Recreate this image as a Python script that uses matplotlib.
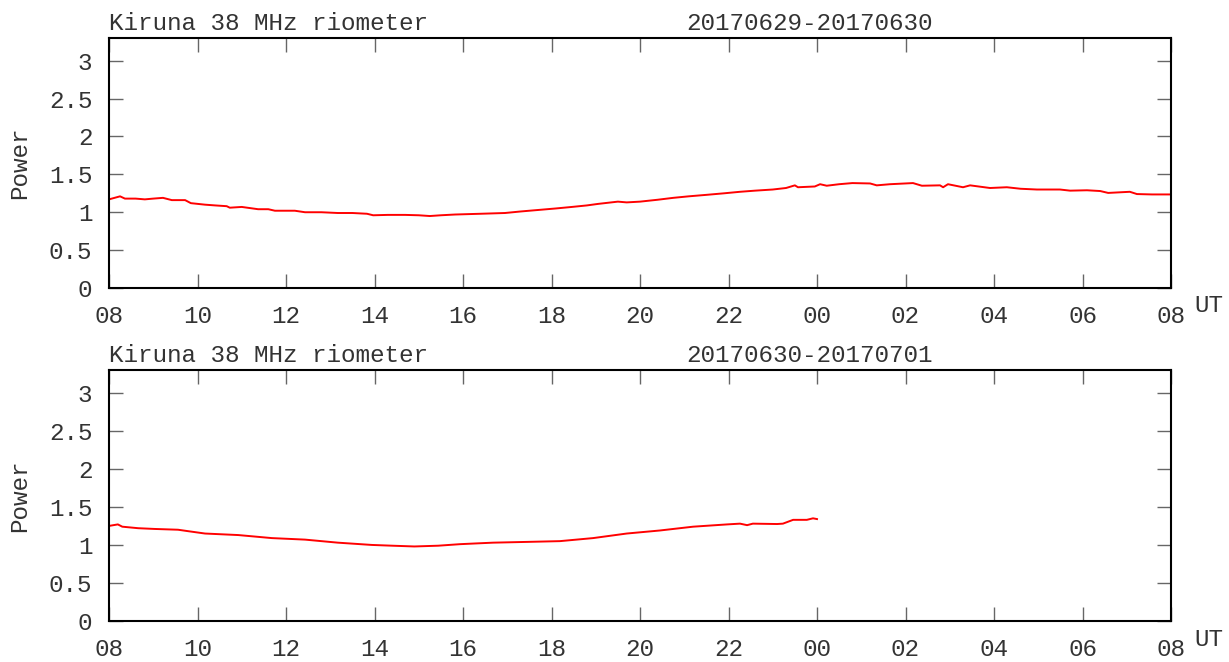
import matplotlib
matplotlib.use("Agg")
import matplotlib.pyplot as plt

# hours since 08 UT on the first day of each panel
hours1 = [0.0, 0.25, 0.36, 0.6, 0.81, 1.0, 1.22, 1.42, 1.72, 1.85, 2.17, 2.4, 2.66, 2.73,
          3.0, 3.37, 3.6, 3.75, 4.2, 4.43, 4.8, 5.17, 5.5, 5.83, 5.97, 6.3, 6.69, 7.0, 7.25,
          7.5, 7.82, 8.4, 8.95, 9.3, 9.7, 10.1, 10.46, 10.8, 11.05, 11.5, 11.7, 12.0, 12.4,
          12.75, 13.1, 13.51, 13.9, 14.26, 14.6, 15.0, 15.3, 15.5, 15.57, 15.95, 16.07, 16.22,
          16.5, 16.8, 17.2, 17.35, 17.65, 18.17, 18.37, 18.78, 18.85, 18.96, 19.3, 19.46,
          19.91, 20.29, 20.6, 20.97, 21.49, 21.72, 22.1, 22.4, 22.58, 23.07, 23.23, 23.57, 24.0]
power1 = [1.17, 1.21, 1.18, 1.18, 1.17, 1.18, 1.19, 1.16, 1.16, 1.12, 1.10, 1.09, 1.08, 1.06,
          1.07, 1.04, 1.04, 1.02, 1.02, 1.00, 1.00, 0.99, 0.99, 0.98, 0.96, 0.965, 0.965, 0.96,
          0.95, 0.96, 0.97, 0.98, 0.99, 1.01, 1.03, 1.05, 1.07, 1.09, 1.11, 1.14, 1.13, 1.14,
          1.165, 1.19, 1.21, 1.23, 1.25, 1.27, 1.285, 1.30, 1.32, 1.355, 1.33, 1.34, 1.37,
          1.35, 1.37, 1.385, 1.38, 1.355, 1.37, 1.385, 1.35, 1.355, 1.33, 1.37, 1.33, 1.355,
          1.32, 1.33, 1.31, 1.30, 1.30, 1.285, 1.29, 1.28, 1.255, 1.27, 1.24, 1.235, 1.235]

hours2 = [0.0, 0.2, 0.3, 0.66, 1.04, 1.56, 1.8, 2.17, 2.92, 3.3, 3.68, 4.43, 5.17, 5.94, 6.4,
          6.9, 7.44, 7.93, 8.3, 8.68, 9.45, 10.19, 10.94, 11.7, 12.45, 13.2, 13.97, 14.26,
          14.42, 14.55, 15.1, 15.23, 15.46, 15.77, 15.91, 16.0]
power2 = [1.25, 1.27, 1.24, 1.22, 1.21, 1.20, 1.18, 1.15, 1.13, 1.11, 1.09, 1.07, 1.03, 1.00,
          0.99, 0.98, 0.99, 1.01, 1.02, 1.03, 1.04, 1.05, 1.09, 1.15, 1.19, 1.24, 1.27, 1.28,
          1.26, 1.28, 1.275, 1.28, 1.33, 1.33, 1.35, 1.34]

titles = ["20170629-20170630", "20170630-20170701"]
xticklabels = ["08", "10", "12", "14", "16", "18", "20", "22", "00", "02", "04", "06", "08"]
yticks = [0, 0.5, 1, 1.5, 2, 2.5, 3]
yticklabels = ["0", "0.5", "1", "1.5", "2", "2.5", "3"]

plt.rcParams['font.family'] = ['Liberation Mono', 'DejaVu Sans Mono']
txt = "#333333"
fs = 17.5

fig = plt.figure(figsize=(12.29, 6.62), dpi=100)
W, H = 1229, 662
panels = [(38, 288), (370, 621)]
series = [(hours1, power1), (hours2, power2)]

for i, (top, bot) in enumerate(panels):
    ax = fig.add_axes([109 / W, 1 - bot / H, (1171 - 109) / W, (bot - top) / H])
    x, y = series[i]
    ax.plot(x, y, color="red", lw=1.4)
    ax.set_xlim(0, 24)
    ax.set_ylim(0, 3.3)
    ax.set_xticks(range(0, 25, 2))
    ax.set_xticklabels(xticklabels)
    ax.set_yticks(yticks)
    ax.set_yticklabels(yticklabels)
    ax.tick_params(direction="in", length=10, width=1, color="#666666",
                   top=True, right=True, labelsize=fs, labelcolor=txt)
    ax.tick_params(axis="x", pad=12)
    ax.tick_params(axis="y", pad=12)
    for s in ax.spines.values():
        s.set_linewidth(1.5)
    fig.text(20 / W, 1 - (top + bot) / 2 / H, "Power", rotation=90, ha="center",
             va="center", fontsize=fs, color=txt)
    ax.text(0.0, 1.01, "Kiruna 38 MHz riometer", transform=ax.transAxes,
            ha="left", va="bottom", fontsize=fs, color=txt)
    ax.text(686 / W, 1 - (top - 3) / H, titles[i], transform=fig.transFigure,
            ha="left", va="bottom", fontsize=fs, color=txt)
    fig.text(1194 / W, 1 - (bot + 18) / H, "UT", ha="left", va="center", fontsize=fs,
             color=txt)

fig.savefig("out.png", dpi=100)
